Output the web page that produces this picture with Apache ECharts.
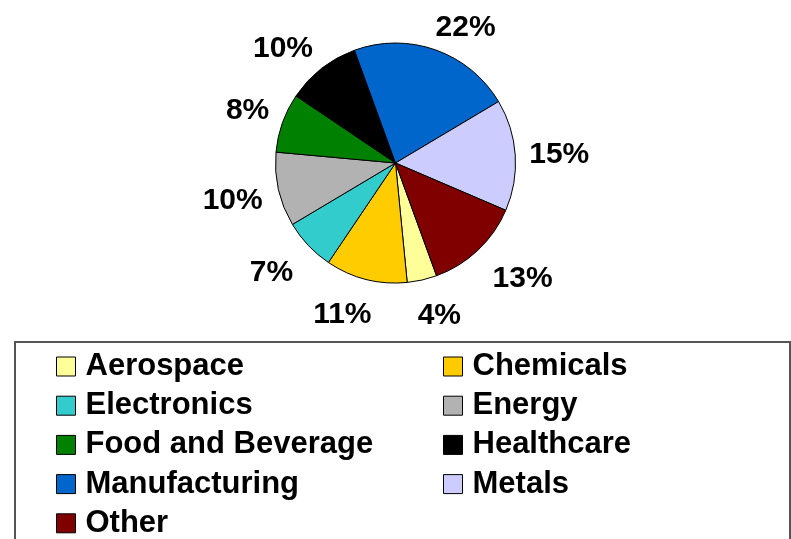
<!DOCTYPE html>
<html>
<head>
<meta charset="utf-8">
<script src="https://cdn.jsdelivr.net/npm/echarts@6/dist/echarts.min.js"></script>
<style>
  html, body { margin: 0; padding: 0; background: #fff; }
  #chart { width: 791px; height: 539px; }
</style>
</head>
<body>
<div id="chart"></div>
<script>
// Industry share, in percent
const industries = ['Aerospace', 'Chemicals', 'Electronics', 'Energy', 'Food and Beverage',
                    'Healthcare', 'Manufacturing', 'Metals', 'Other'];
const shares = [4, 11, 7, 10, 8, 10, 22, 15, 13];
const sliceColors = ['#FFFF99', '#FFCC00', '#33CCCC', '#B2B2B2', '#008000',
                     '#000000', '#0066CC', '#CCCCFF', '#800000'];

// Legend columns
const legendLeft = ['Aerospace', 'Electronics', 'Food and Beverage', 'Manufacturing', 'Other'];
const legendRight = ['Chemicals', 'Energy', 'Healthcare', 'Metals'];

const FONT = "'Liberation Sans', Arial, Helvetica, sans-serif";
const LABEL_SIZE = 30;

// Pie geometry
const CX = 395.5, CY = 163, R = 120;
const START_ANGLE = -70;          // echarts convention: degrees CCW from 3 o'clock

// Mid-angle of every slice, measured clockwise from 12 o'clock
const total = shares.reduce((a, b) => a + b, 0);
const midAngles = [];
{
  let acc = 0;
  const from = 90 - START_ANGLE;
  shares.forEach(v => {
    midAngles.push(from + 360 * (acc + v / 2) / total);
    acc += v;
  });
}

// Places each percentage just beyond the rim, with the label's nearest
// corner (or edge, near the horizontal) pointing at the slice.
function rimLabel(p) {
  const a = midAngles[p.dataIndex] * Math.PI / 180;
  const ux = Math.sin(a), uy = -Math.cos(a);
  const hw = p.labelRect.width / 2;
  const hh = LABEL_SIZE * 0.36;
  const ramp = v => Math.max(-1, Math.min(1, v * 2.5));
  const dist = R + 14 + 10 * Math.max(0, uy);
  return {
    x: CX + dist * ux + hw * ramp(ux),
    y: CY + dist * uy + hh * ramp(uy) + 2,
    align: 'center',
    verticalAlign: 'middle'
  };
}

const pieData = industries.map((name, i) => ({
  name: name,
  value: shares[i],
  itemStyle: { color: sliceColors[i] }
}));

const legendBase = {
  orient: 'vertical',
  top: 351,
  height: 230,
  padding: 0,
  itemGap: 8.2,
  itemWidth: 19,
  itemHeight: 19,
  icon: 'rect',
  selectedMode: false,
  itemStyle: { borderColor: '#000', borderWidth: 1 },
  textStyle: {
    fontFamily: FONT, fontSize: 31, fontWeight: 'bold', color: '#000',
    lineHeight: 28, padding: [0, 0, 0, 5]
  }
};

const chart = echarts.init(document.getElementById('chart'), null, { renderer: 'canvas' });
chart.setOption({
  animation: false,
  backgroundColor: '#fff',
  graphic: [{
    type: 'rect',
    shape: { x: 15, y: 342, width: 775, height: 230 },
    style: { fill: 'none', stroke: '#555', lineWidth: 2 },
    z: 0
  }],
  legend: [
    Object.assign({}, legendBase, { left: 56, data: legendLeft }),
    Object.assign({}, legendBase, { left: 443, data: legendRight })
  ],
  series: [{
    type: 'pie',
    center: [CX, CY],
    radius: R,
    startAngle: START_ANGLE,
    clockwise: true,
    avoidLabelOverlap: false,
    data: pieData,
    silent: true,
    itemStyle: { borderColor: '#000', borderWidth: 1 },
    label: {
      show: true,
      position: 'outside',
      formatter: p => p.value + '%',
      fontFamily: FONT, fontSize: LABEL_SIZE, fontWeight: 'bold', color: '#000'
    },
    labelLine: { show: false },
    labelLayout: rimLabel,
    emphasis: { disabled: true }
  }]
});
</script>
</body>
</html>
